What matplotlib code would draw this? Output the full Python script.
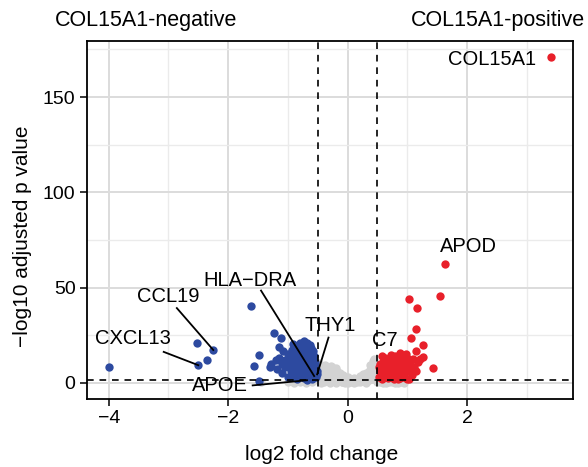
import matplotlib
matplotlib.use("Agg")
import matplotlib.pyplot as plt
import numpy as np

plt.rcParams['font.family'] = ['Liberation Sans', 'DejaVu Sans']

# not significant genes (log2FC, -log10 padj)
grey_x = [-0.48, -0.45, -0.42, -0.40, -0.38, -0.35, -0.32, -0.30, -0.28, -0.25, -0.22, -0.20,
          -0.18, -0.15, -0.12, -0.10, -0.08, -0.05, 0.00, 0.05, 0.10, 0.15, 0.20, 0.25, 0.30,
          0.35, 0.40, 0.42, 0.45, 0.47, -0.45, -0.40, -0.35, -0.30, -0.25, -0.20, -0.15, -0.10,
          -0.05, 0.00, 0.05, 0.10, 0.15, 0.20, 0.25, 0.30, 0.35, 0.40, 0.45, 0.50, 0.55, 0.60,
          0.65, 0.70, 0.75, 0.80, 0.85, 0.90, 0.95, -0.48, -0.45, -0.40, -0.30, -0.20, -0.10,
          0.00, -0.60, -0.70, -0.80, -0.90, -1.00, -1.45, -0.35, -0.25, 0.38, 0.44,
          -0.46, -0.43, -0.37, -0.33, -0.27, -0.23, -0.17, -0.13, -0.07, -0.02, 0.03, 0.08,
          0.13, 0.18, 0.23, 0.28, 0.33, 0.37, 0.43, -0.41, -0.36, -0.26, -0.16, 0.27, 0.32]
grey_y = [10.5, 9.0, 8.0, 6.5, 9.5, 7.5, 8.5, 6.0, 9.0, 7.0, 5.5, 7.5,
          6.0, 4.5, 5.0, 3.5, 4.0, 2.5, 3.0, 2.0, 2.5, 2.0, 3.5, 4.5, 5.0,
          6.0, 8.0, 11.5, 10.0, 6.0, 4.0, 3.0, 2.0, 3.5, 2.0, 1.5, 1.0, 0.5,
          0.0, 0.5, 0.2, 0.0, 0.3, 0.5, 1.0, 0.0, 1.5, 2.0, 3.0, 0.5, 0.2, 0.0,
          0.1, 0.5, 0.2, 0.0, 0.1, 0.3, 0.0, 1.0, 0.0, 0.2, 0.1, 0.0, 0.2,
          0.0, 0.5, 0.0, 0.5, 0.0, 0.5, 0.2, 5.0, 4.5, 9.5, 12.5,
          6.0, 2.0, 4.5, 6.0, 5.0, 3.5, 3.5, 2.5, 1.5, 1.5, 1.0, 1.2,
          1.0, 1.8, 2.5, 2.8, 3.5, 4.0, 5.5, 5.0, 9.0, 8.0, 3.0, 1.0, 0.8]

# down in COL15A1-positive
blue_x = [-4.00, -2.53, -2.25, -2.36, -2.50, -1.62, -1.48, -1.56, -1.48, -1.30, -1.24, -1.12,
          -1.15, -1.09, -1.28, -1.00, -0.95, -0.92, -0.79, -0.73, -0.67,
          -0.85, -0.80, -0.75, -0.70, -0.65, -0.62, -0.60, -0.58, -0.55, -0.53, -0.55, -0.60,
          -0.65, -0.70, -0.75, -0.80, -0.85, -0.90, -0.95, -1.00, -1.05, -1.10, -1.15, -1.05,
          -0.90, -0.85, -0.80, -0.75, -0.70, -0.65, -0.60, -0.70, -0.78, -0.88, -0.98, -1.10,
          -1.00, -0.90, -0.85, -0.62, -0.57, -0.55, -0.52, -0.68, -0.82, -1.20, -1.18,
          -0.51, -0.56, -0.68, -0.72, -0.63, -0.58, -0.93, -0.77,
          -0.66, -0.61, -0.72, -0.76, -0.83, -0.87, -0.54, -0.59, -0.64, -0.73, -0.81, -0.95]
blue_y = [8.3, 20.6, 17.2, 12.1, 9.2, 40.5, 14.4, 8.8, 0.9, 8.4, 26.0, 23.7,
          18.5, 16.7, 9.7, 11.4, 6.2, 20.2, 21.1, 22.0, 19.4,
          17.0, 15.0, 17.0, 15.0, 16.0, 13.0, 10.0, 7.0, 4.0, 3.0, 8.0, 5.0,
          9.0, 11.0, 12.0, 10.0, 12.0, 14.0, 13.0, 15.0, 12.0, 10.0, 13.0, 8.0,
          8.0, 6.0, 4.0, 6.0, 4.0, 3.0, 2.0, 7.0, 8.0, 10.0, 9.0, 5.0,
          3.0, 3.0, 2.0, 18.0, 14.0, 11.0, 6.0, 21.0, 19.0, 12.0, 7.0,
          4.4, 3.5, 1.3, 19.0, 20.0, 16.5, 17.0, 18.5,
          13.5, 8.5, 9.5, 14.5, 16.0, 8.0, 9.5, 12.0, 6.5, 2.5, 6.5, 10.5]

# up in COL15A1-positive
red_x = [3.40, 1.63, 1.55, 1.03, 1.16, 1.15, 1.06, 1.27, 1.14, 1.27, 1.43,
         0.52, 0.55, 0.55, 0.58, 0.60, 0.62, 0.65, 0.68, 0.70, 0.72, 0.75, 0.78, 0.80,
         0.82, 0.85, 0.88, 0.90, 0.92, 0.95, 0.97, 1.00, 1.02, 1.05, 1.08, 1.10, 1.12,
         1.18, 1.22, 0.53, 0.57, 0.63, 0.67, 0.73, 0.77, 0.83, 0.87, 0.93, 0.98, 1.00,
         1.03, 0.60, 0.70, 0.80, 0.90, 0.66, 0.85, 0.95, 1.15,
         0.56, 0.64, 0.71, 0.76, 0.81, 0.86, 0.91, 0.96, 1.01, 1.06, 0.74, 0.84, 0.94]
red_y = [171.0, 62.4, 45.4, 44.0, 39.2, 28.2, 23.7, 19.9, 16.7, 13.5, 7.9,
         3.0, 6.0, 10.0, 14.0, 8.0, 4.0, 11.0, 6.0, 9.0, 3.0, 12.0, 7.0, 14.0,
         4.0, 10.0, 15.5, 6.0, 12.0, 3.0, 9.0, 13.0, 6.0, 10.0, 4.0, 12.5, 8.0,
         11.0, 12.5, 8.0, 2.0, 13.0, 2.5, 14.5, 2.0, 7.5, 2.5, 4.5, 15.0, 2.0,
         1.8, 11.0, 12.0, 10.0, 9.0, 7.0, 13.0, 11.0, 6.0,
         4.5, 8.5, 5.0, 9.5, 5.5, 5.0, 3.5, 6.5, 9.5, 7.0, 4.0, 2.0, 7.5]

# labelled genes: name, point, text position
gene_names = ["COL15A1", "APOD", "C7", "THY1", "HLA\u2212DRA", "CCL19", "CXCL13", "APOE"]
gene_pt_x = [3.40, 1.63, 0.63, -0.51, -0.56, -2.25, -2.50, -0.68]
gene_pt_y = [171.0, 62.4, 15.0, 4.4, 3.5, 17.2, 9.2, 1.3]
label_x = [3.15, 2.03, 0.63, -0.29, -1.63, -3.00, -3.60, -2.14]
label_y = [170.0, 71.6, 22.0, 29.9, 53.6, 45.2, 23.0, -1.4]
# where the connector leaves the label (None = no connector)
seg_start = [None, None, None, (-0.32, 23.7), (-1.45, 48.4), (-2.86, 39.2), (-3.08, 16.2), (-1.59, -1.4)]

fc_cut = 0.5
p_cut = -np.log10(0.05)

fig = plt.figure(figsize=(5.88, 4.67), dpi=100)
ax = fig.add_axes([0.1474, 0.1456, 0.8266, 0.7672])

ax.scatter(grey_x, grey_y, s=36, color="#d3d3d3", linewidths=0, zorder=2)
ax.scatter(blue_x, blue_y, s=36, color="#2d4aa0", linewidths=0, zorder=3)
ax.scatter(red_x, red_y, s=36, color="#e8202a", linewidths=0, zorder=3)

for xv in (-fc_cut, fc_cut):
    ax.axvline(xv, color="black", lw=1.2, ls=(0, (4, 3.5)), zorder=4)
ax.axhline(p_cut, color="black", lw=1.2, ls=(0, (4, 3.5)), zorder=4)

for i, name in enumerate(gene_names):
    ha = "right" if name == "COL15A1" else "center"
    ax.text(label_x[i], label_y[i], name, fontsize=14.5, ha=ha, va="center", zorder=6)
    if seg_start[i] is not None:
        ax.plot([seg_start[i][0], gene_pt_x[i]], [seg_start[i][1], gene_pt_y[i]],
                color="black", lw=1.3, zorder=5)

ax.set_xlim(-4.37, 3.77)
ax.set_ylim(-8.55, 179.6)
ax.set_xticks([-4, -2, 0, 2])
ax.set_yticks([0, 50, 100, 150])
ax.set_xticks([-3, -1, 1, 3], minor=True)
ax.set_yticks([25, 75, 125, 175], minor=True)
ax.grid(which="major", color="#dcdcdc", lw=1.4, zorder=0)
ax.grid(which="minor", color="#ebebeb", lw=1.0, zorder=0)
ax.set_axisbelow(True)
ax.tick_params(which="major", length=5, width=1.1, color="black", labelsize=14, pad=3)
ax.tick_params(which="minor", length=0)
for sp in ax.spines.values():
    sp.set_color("black")
    sp.set_linewidth(1.3)

ax.set_xlabel("log2 fold change", fontsize=15)
ax.xaxis.set_label_coords(0.484, -0.1535)
ax.set_ylabel("\u2212log10 adjusted p value", fontsize=15)
ax.yaxis.set_label_coords(-0.131, 0.4535)
ax.xaxis.label.set_va("center")
ax.yaxis.label.set_va("center")

fig.text(0.094, 0.957, "COL15A1-negative", fontsize=15.5, ha="left", va="center")
fig.text(0.995, 0.957, "COL15A1-positive", fontsize=15.5, ha="right", va="center")

fig.savefig("out.png", dpi=100)
